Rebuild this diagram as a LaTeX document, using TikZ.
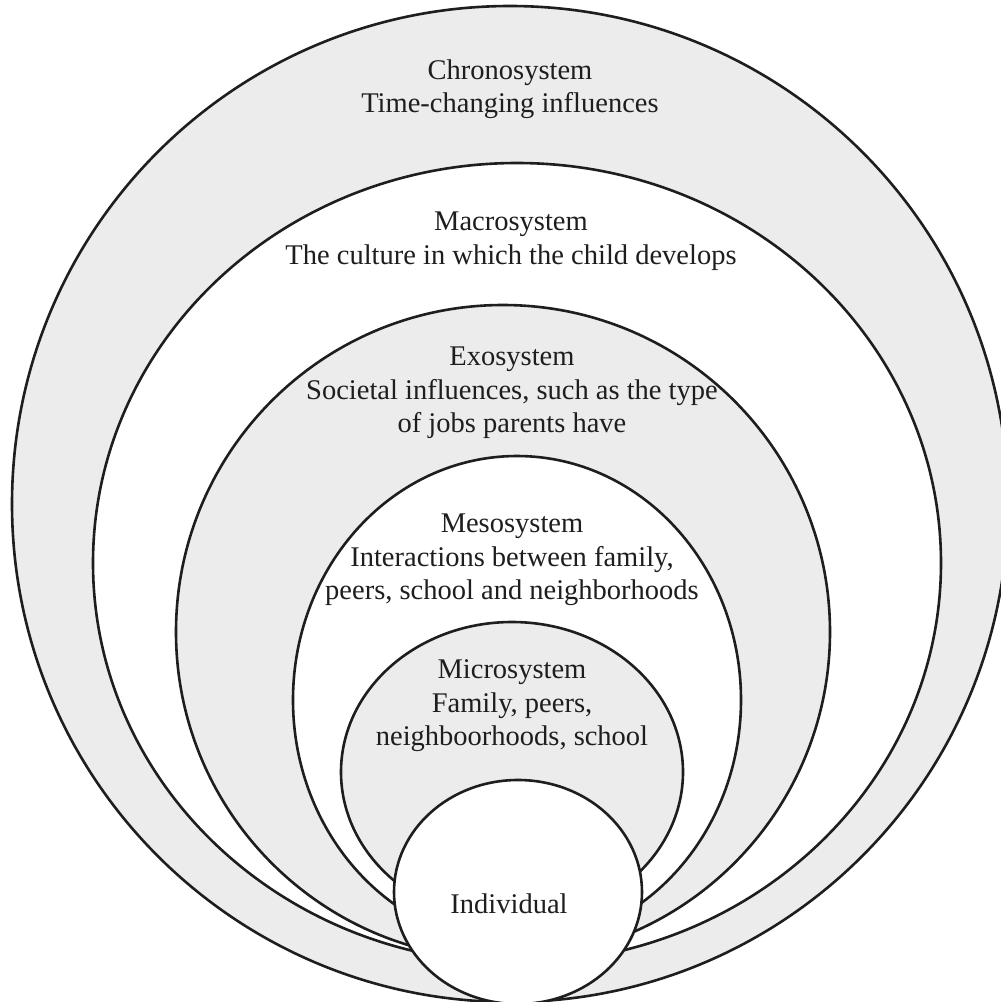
\documentclass[tikz,border=0pt]{standalone}
\usepackage{fontspec}
\setmainfont{Liberation Serif}
\definecolor{ringgray}{HTML}{ECECEC}
\definecolor{inkline}{HTML}{1E1E1E}
\tikzset{
  ring/.style={draw=inkline, line width=2.6pt},
  grayring/.style={ring, fill=ringgray},
  whitering/.style={ring, fill=white},
  lab/.style={align=center, font=\fontsize{28.5}{33.5}\selectfont, text=inkline, inner sep=0pt}
}
\begin{document}
\begin{tikzpicture}[x=1pt,y=-1pt]
\useasboundingbox (0,0) rectangle (1001,1002);
\begin{scope}
\clip (0,0) rectangle (1001,1002);
\draw[grayring] (510,504) ellipse [x radius=498, y radius=498];
\draw[whitering] (517,563) ellipse [x radius=424, y radius=400];
\draw[grayring] (503,632) ellipse [x radius=327, y radius=327];
\draw[whitering] (517,700) ellipse [x radius=224, y radius=244];
\draw[grayring] (512,772) ellipse [x radius=171, y radius=150];
\draw[whitering] (518,892) ellipse [x radius=124, y radius=112];
\end{scope}
\node[lab] (chrono) at (510,89) {Chronosystem\\Time-changing influences};
\node[lab] (macro) at (511,241) {Macrosystem\\The culture in which the child develops};
\node[lab] (exo) at (512,393) {Exosystem\\Societal influences, such as the type\\of jobs parents have};
\node[lab] (meso) at (512,560) {Mesosystem\\Interactions between family,\\peers, school and neighborhoods};
\node[lab] (micro) at (512,706) {Microsystem\\Family, peers,\\neighboorhoods, school};
\node[lab] (indiv) at (509,904) {Individual};
\end{tikzpicture}
\end{document}
